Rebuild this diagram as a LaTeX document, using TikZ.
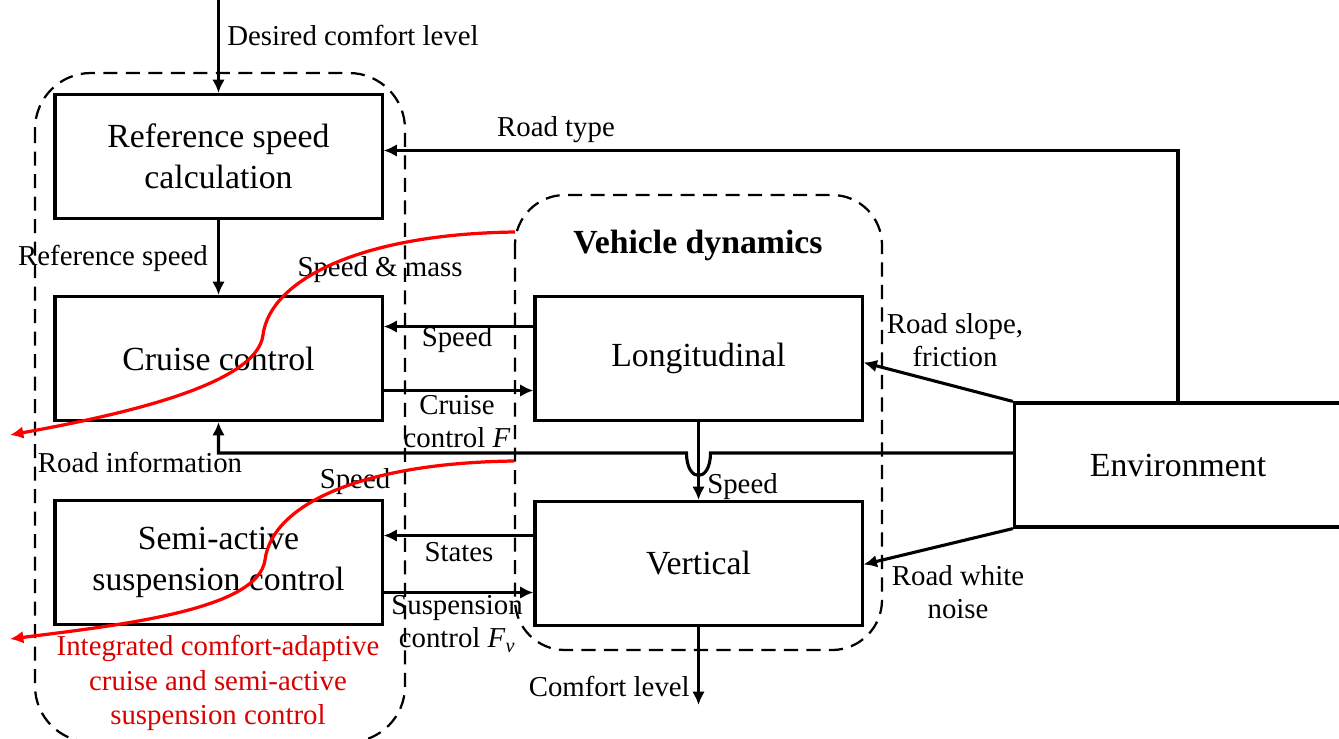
\documentclass[tikz,border=0pt]{standalone}
\usepackage{fontspec}
\setmainfont{Liberation Serif}
\usetikzlibrary{arrows.meta,calc}

\tikzset{
  block/.style={draw, line width=2.2pt, minimum width=8.175cm, minimum height=3.1cm,
    align=center, font=\fontsize{24}{29}\selectfont},
  lbl/.style={font=\fontsize{20.5}{23.5}\selectfont, align=center, inner sep=0pt},
  arr/.style={line width=2.2pt, -{Latex[length=9.5pt,width=9pt]}},
  group/.style={dash pattern=on 10pt off 6pt, line width=1.6pt, rounded corners=1.4cm},
  feed/.style={red, line width=2.3pt, -{Latex[length=9.5pt,width=9pt]}}
}

\begin{document}
\begin{tikzpicture}[x=0.025cm, y=-0.025cm]
    \useasboundingbox (0,0) rectangle (1339,738);
    \clip (0,0) rectangle (1339,738);
    % Dashed groups
    \draw[group] (35,73) rectangle (405,742);
    \draw[group, rounded corners=1.25cm] (515,195) rectangle (882,650);
    % Blocks
    \node[block] (ref) at (218.5,156.5) {Reference speed\\calculation};
    \node[block] (cruise) at (218.5,358.5) {Cruise control};
    \node[block] (semi) at (218.5,562.5) {Semi-active\\suspension control};
    \node[block] (lon) at (698.5,358.5) {Longitudinal};
    \node[block] (ver) at (698.5,563.5) {Vertical};
    \node[block] (env) at (1178,465) {Environment};
    \node[font=\fontsize{24}{29}\selectfont\bfseries] (vd) at (698,245) {Vehicle dynamics};
    % Inputs and outputs
    \coordinate (dcl) at (218.5,0);
    \draw[arr] (dcl) -- (ref.north);
    \node[lbl, anchor=west] (dcltext) at (227,35) {Desired comfort level};
    \draw[arr] (env.north) |- ($(ref.east)+(0,-6)$);
    \node[lbl] (rt) at (556,130) {Road type};
    \draw[arr] (ref.south) -- (cruise.north);
    \node[lbl] (rs) at (113,258) {Reference speed};
    \node[lbl] (spm) at (380,270) {Speed \& mass};
    % Cruise <-> longitudinal
    \draw[arr] ($(lon.west)+(0,-32)$) -- ($(cruise.east)+(0,-32)$);
    \node[lbl] (sp1) at (457,340) {Speed};
    \draw[arr] ($(cruise.east)+(0,32)$) -- ($(lon.west)+(0,32)$);
    \node[lbl] (ccf) at (457,422) {Cruise\\control \textit{F}};
    \draw[arr] (lon.south) -- (ver.north);
    \node[lbl, anchor=west] (sp2) at (707,487) {Speed};
    % Road information with hop
    \coordinate (ri) at ($(env.west)+(0,-12)$);
    \draw[arr] (ri) -- ($(ri -| lon.south)+(12,0)$)
        .. controls +(0,30) and +(0,30) .. ($(ri -| lon.south)+(-12,0)$)
        -- (ri -| cruise.south) -- (cruise.south);
    \node[lbl] (ri text) at (140,462) {Road information};
    \node[lbl] (sp3) at (355,482) {Speed};
    % Semi-active <-> vertical
    \draw[arr] ($(ver.west)+(0,-28)$) -- ($(semi.east)+(0,-27)$);
    \node[lbl] (st) at (459,552) {States};
    \draw[arr] ($(semi.east)+(0,30)$) -- ($(ver.west)+(0,29)$);
    \node[lbl] (scf) at (457,624) {Suspension\\control \textit{F}\textsubscript{\textit{v}}};
    % Environment
    \draw[arr] (env.north west) -- ($(lon.east)+(0,4)$);
    \node[lbl] (rsf) at (955,340) {Road slope,\\friction};
    \draw[arr] (env.south west) -- ($(ver.east)+(0,1)$);
    \node[lbl] (rwn) at (958,592) {Road white\\noise};
    \coordinate (cl) at (698.5,705);
    \draw[arr] (ver.south) -- (cl);
    \node[lbl, anchor=east] (cltext) at (690,686) {Comfort level};
    % Integrated control
    \draw[feed] (515,232) .. controls (360,234) and (270,280) .. (263,335)
        .. controls (257,385) and (120,415) .. (10,435);
    \draw[feed] (514,461) .. controls (360,463) and (272,505) .. (265,560)
        .. controls (258,610) and (120,625) .. (10,639);
    \node[lbl, red!85!black, font=\fontsize{20.5}{24.5}\selectfont] (ictext) at (218,683)
        {Integrated comfort-adaptive\\cruise and semi-active\\suspension control};
\end{tikzpicture}
\end{document}
